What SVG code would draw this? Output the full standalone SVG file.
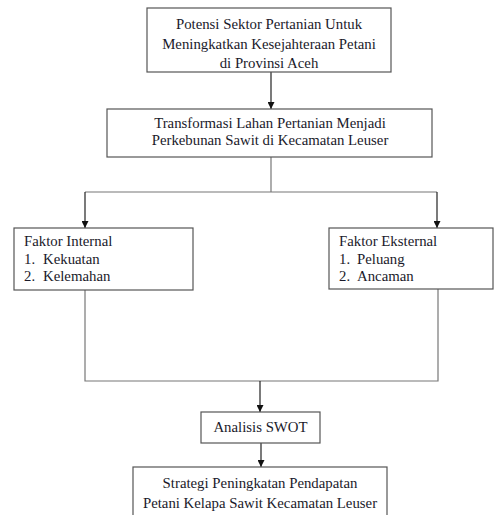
<svg xmlns="http://www.w3.org/2000/svg" width="504" height="515" viewBox="0 0 504 515">
<defs>
<marker id="ah" viewBox="0 0 10 10" refX="10" refY="5" markerWidth="7" markerHeight="7" orient="auto" markerUnits="userSpaceOnUse"><path d="M0,0 L10,5 L0,10 z" fill="#111"/></marker>
</defs>
<style>
.box{fill:#fff;stroke:#555;stroke-width:1.2}
.c{text-anchor:middle}
.ln{fill:none;stroke:#777;stroke-width:1.2}
.ar{fill:none;stroke:#222;stroke-width:1.2;marker-end:url(#ah)}
</style>
<rect width="504" height="515" fill="#fff"/>
<g id="connectors">
<path class="ar" d="M271,72 V109"/>
<path class="ln" d="M271,157 V192"/>
<path class="ln" d="M85,192 H437"/>
<path class="ar" d="M85,192 V228"/>
<path class="ar" d="M437,192 V228"/>
<path class="ln" d="M85,290 V381 H438 V289"/>
<path class="ar" d="M260,381 V412"/>
<path class="ar" d="M261,443 V467"/>
</g>
<g font-family="Liberation Serif, Times New Roman, serif" font-size="14.8" fill="#1a1a2a">
<g id="n1">
<rect class="box" x="147" y="8" width="244" height="64"/>
<text class="c" x="269" y="29">Potensi Sektor Pertanian Untuk</text>
<text class="c" x="269" y="48.5">Meningkatkan Kesejahteraan Petani</text>
<text class="c" x="269" y="68">di Provinsi Aceh</text>
</g>
<g id="n2">
<rect class="box" x="107" y="109" width="325" height="48"/>
<text class="c" x="270" y="127.5">Transformasi Lahan Pertanian Menjadi</text>
<text class="c" x="270" y="145">Perkebunan Sawit di Kecamatan Leuser</text>
</g>
<g id="n3">
<rect class="box" x="14" y="228" width="179" height="62"/>
<text x="24" y="246">Faktor Internal</text>
<text x="24" y="263.5">1.</text><text x="43" y="263.5">Kekuatan</text>
<text x="24" y="281">2.</text><text x="43" y="281">Kelemahan</text>
</g>
<g id="n4">
<rect class="box" x="329" y="228" width="164" height="61"/>
<text x="339" y="246">Faktor Eksternal</text>
<text x="339" y="263.5">1.</text><text x="357" y="263.5">Peluang</text>
<text x="339" y="281">2.</text><text x="357" y="281">Ancaman</text>
</g>
<g id="n5">
<rect class="box" x="201" y="412" width="119" height="31"/>
<text class="c" x="260.5" y="432">Analisis SWOT</text>
</g>
<g id="n6">
<rect class="box" x="133" y="467" width="254" height="60"/>
<text class="c" x="260" y="488">Strategi Peningkatan Pendapatan</text>
<text class="c" x="260" y="508">Petani Kelapa Sawit Kecamatan Leuser</text>
</g>
</g>
</svg>
